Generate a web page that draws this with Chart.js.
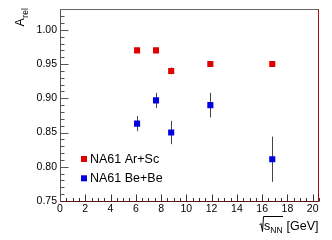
<!DOCTYPE html>
<html><head><meta charset="utf-8">
<script src="https://cdn.jsdelivr.net/npm/chart.js@4/dist/chart.umd.min.js"></script>
<style>html,body{margin:0;padding:0;background:#fff}#wrap{width:332px;height:240px}</style>
</head><body><div id="wrap"><canvas id="c" width="332" height="240"></canvas></div>
<script>
const energies = [6.1, 7.6, 8.8, 11.9, 16.8];
const arScA = [0.970, 0.970, 0.940, 0.950, 0.950];
const arScErr = [0.002, 0.002, 0.005, 0.002, 0.002];
const beBeA = [0.863, 0.897, 0.850, 0.890, 0.811];
const beBeErr = [0.011, 0.011, 0.017, 0.018, 0.033];
const seriesNames = ['NA61 Ar+Sc', 'NA61 Be+Be'];
const seriesColors = ['#e00000', '#0000e0'];

const FONT = '"Liberation Sans", Arial, sans-serif';

const errorBars = {
  id: 'errorBars',
  beforeDatasetsDraw(chart) {
    const ctx = chart.ctx, y = chart.scales.y;
    ctx.save();
    ctx.strokeStyle = '#444';
    ctx.lineWidth = 1;
    chart.data.datasets.forEach((ds, i) => {
      const meta = chart.getDatasetMeta(i);
      meta.data.forEach((pt, j) => {
        const v = ds.data[j].y, e = ds.errors[j];
        const y1 = y.getPixelForValue(v + e), y2 = y.getPixelForValue(v - e);
        const x = Math.round(pt.x) + 0.5;
        ctx.beginPath(); ctx.moveTo(x, y1); ctx.lineTo(x, y2); ctx.stroke();
      });
    });
    ctx.restore();
  }
};

const frame = {
  id: 'frame',
  afterDraw(chart) {
    const ctx = chart.ctx, a = chart.chartArea, xs = chart.scales.x, ys = chart.scales.y;
    const L = Math.round(a.left) + 0.5, R = Math.round(a.right) - 0.5, T = Math.round(a.top) + 0.5, B = Math.round(a.bottom) + 0.5;
    ctx.save();
    ctx.lineWidth = 1;
    // y ticks
    ctx.strokeStyle = '#555';
    const yMajor = ys.ticks.map(t => t.value);
    for (let v = ys.min; v <= ys.max + 1e-9; v += 0.01) {
      const py = Math.round(ys.getPixelForValue(v)) + 0.5;
      const isMaj = yMajor.some(m => Math.abs(m - v) < 1e-6);
      ctx.beginPath(); ctx.moveTo(L, py); ctx.lineTo(L + (isMaj ? 8 : 4), py); ctx.stroke();
    }
    // x ticks
    ctx.strokeStyle = '#333';
    const xMajor = xs.ticks.map(t => t.value);
    for (let v = xs.min; v <= xs.max + 1e-9; v += 0.5) {
      const px = Math.round(xs.getPixelForValue(v)) + 0.5;
      const isMaj = xMajor.some(m => Math.abs(m - v) < 1e-6);
      ctx.beginPath(); ctx.moveTo(px, B); ctx.lineTo(px, B - (isMaj ? 7 : 3.5)); ctx.stroke();
    }
    // frame lines
    ctx.strokeStyle = '#666';
    ctx.beginPath(); ctx.moveTo(L, T); ctx.lineTo(R + 0.5, T); ctx.stroke();
    ctx.strokeStyle = '#555';
    ctx.beginPath(); ctx.moveTo(L, T); ctx.lineTo(L, B); ctx.stroke();
    ctx.strokeStyle = '#aa0a0a';
    ctx.beginPath(); ctx.moveTo(R, T); ctx.lineTo(R, B); ctx.stroke();
    ctx.strokeStyle = '#5a1414';
    ctx.beginPath(); ctx.moveTo(L, B); ctx.lineTo(R, B); ctx.stroke();

    // legend
    ctx.textBaseline = 'middle';
    ctx.textAlign = 'left';
    ctx.font = '12.5px ' + FONT;
    seriesNames.forEach((n, i) => {
      const cy = 159 + i * 19.3;
      ctx.fillStyle = seriesColors[i];
      ctx.fillRect(81, cy - 3, 6, 6);
      ctx.fillStyle = '#000';
      ctx.fillText(n, 90, cy + 0.5);
    });

    // y title A_rel (rotated)
    ctx.save();
    ctx.translate(23.5, 26.5);
    ctx.rotate(-Math.PI / 2);
    ctx.textBaseline = 'alphabetic';
    ctx.fillStyle = '#000';
    ctx.font = '12.5px ' + FONT;
    ctx.fillText('A', 0, 0);
    const wA = ctx.measureText('A').width;
    ctx.font = '8.5px ' + FONT;
    ctx.fillText('rel', wA + 0.5, 4.5);
    ctx.restore();

    // x title
    ctx.textBaseline = 'alphabetic';
    ctx.textAlign = 'left';
    ctx.fillStyle = '#000';
    ctx.font = '12.5px ' + FONT;
    const gev = '[GeV]';
    const wG = ctx.measureText(gev).width;
    const xG = 318.5 - wG;
    ctx.fillText(gev, xG, 230);
    ctx.font = '8.5px ' + FONT;
    const wNN = ctx.measureText('NN').width;
    const xNN = xG - 4 - wNN;
    ctx.fillText('NN', xNN, 233);
    ctx.font = '12.5px ' + FONT;
    const wS = ctx.measureText('s').width;
    const xS = xNN - wS;
    ctx.fillText('s', xS, 230);
    // sqrt sign
    ctx.strokeStyle = '#000';
    ctx.lineWidth = 1;
    ctx.beginPath();
    ctx.moveTo(xS - 4.5, 225);
    ctx.lineTo(xS - 3, 223.5);
    ctx.lineTo(xS - 1.5, 231.5);
    ctx.lineTo(xS - 0.5, 216.5);
    ctx.lineTo(xNN + wNN + 0.5, 216.5);
    ctx.stroke();
    ctx.restore();
  }
};

new Chart(document.getElementById('c'), {
  type: 'scatter',
  data: {
    datasets: [
      { label: seriesNames[0], data: energies.map((e, i) => ({x: e, y: arScA[i]})), errors: arScErr,
        backgroundColor: seriesColors[0], borderWidth: 0, pointStyle: 'rect', pointRadius: 4.3 },
      { label: seriesNames[1], data: energies.map((e, i) => ({x: e, y: beBeA[i]})), errors: beBeErr,
        backgroundColor: seriesColors[1], borderWidth: 0, pointStyle: 'rect', pointRadius: 4.3 }
    ]
  },
  options: {
    responsive: false,
    animation: false,
    layout: { padding: { left: 0, right: 13, top: 9, bottom: 0 } },
    plugins: { legend: { display: false }, tooltip: { enabled: false } },
    scales: {
      x: {
        type: 'linear', min: 0, max: 20.5,
        afterFit: s => { s.height = 39; },
        grid: { display: false, drawTicks: false },
        border: { display: false },
        ticks: { stepSize: 2, includeBounds: false, padding: 2, color: '#000',
          font: { family: FONT, size: 10.5 }, maxRotation: 0, callback: v => String(v) }
      },
      y: {
        type: 'linear', min: 0.75, max: 1.03,
        afterFit: s => { s.width = 60; },
        grid: { display: false, drawTicks: false },
        border: { display: false },
        ticks: { stepSize: 0.05, includeBounds: false, padding: 3, color: '#000',
          font: { family: FONT, size: 10.5 }, callback: v => v.toFixed(2) }
      }
    }
  },
  plugins: [errorBars, frame]
});
</script>
</body></html>
